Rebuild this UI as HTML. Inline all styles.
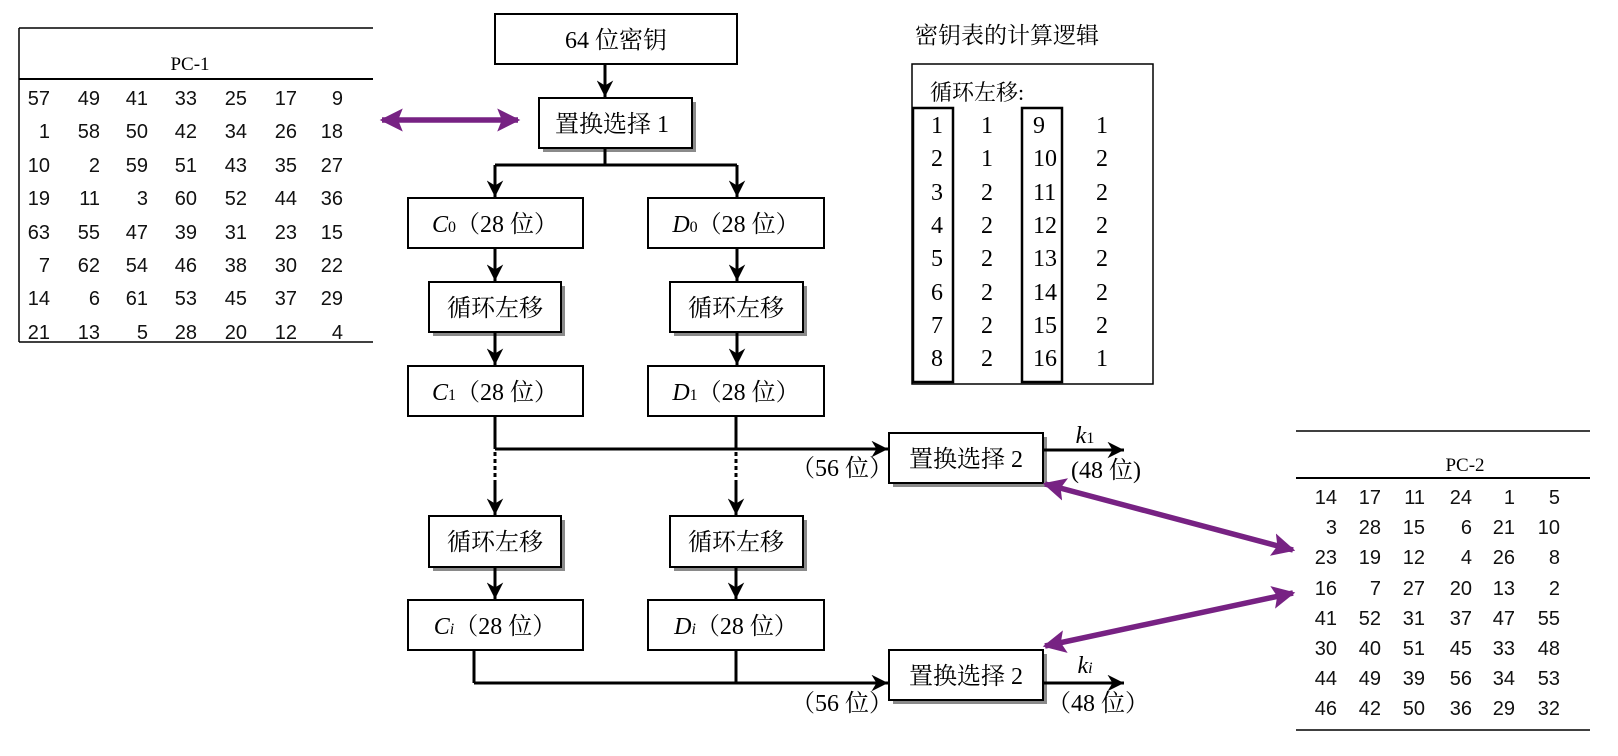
<!DOCTYPE html>
<html><head><meta charset="utf-8"><style>
html,body{margin:0;padding:0;background:#fff;}
svg{display:block;}
.s{font-family:"Liberation Serif","Noto Serif CJK SC",serif;fill:#000;}
.n{font-family:"Liberation Sans","DejaVu Sans",sans-serif;font-size:20px;fill:#111;}
</style></head><body>
<svg width="1618" height="756" viewBox="0 0 1618 756" xmlns="http://www.w3.org/2000/svg">
<defs>
<marker id="ah" viewBox="0 0 10 10" refX="10" refY="5" markerWidth="5.5" markerHeight="5.5" orient="auto" markerUnits="strokeWidth"><path d="M0,0 L10,5 L0,10 L3,5 z" fill="#000"/></marker>
<marker id="ph" viewBox="0 0 10 10" refX="9" refY="5" markerWidth="4.2" markerHeight="4.2" orient="auto-start-reverse" markerUnits="strokeWidth"><path d="M0,0 L10,5 L0,10 L2,5 z" fill="#772283"/></marker>
</defs>

<!-- PC-1 table -->
<g stroke="#000" stroke-width="1.5">
<line x1="19" y1="28" x2="373" y2="28"/>
<line x1="19" y1="79" x2="373" y2="79" stroke-width="2"/>
<line x1="19" y1="342" x2="373" y2="342"/>
<line x1="19" y1="28" x2="19" y2="342"/>
</g>
<text x="190" y="70" text-anchor="middle" style="font-family:'Liberation Serif',serif;font-size:19px">PC-1</text>
<g class="n" text-anchor="end">
<text y="105"><tspan x="50">57</tspan><tspan x="100">49</tspan><tspan x="148">41</tspan><tspan x="197">33</tspan><tspan x="247">25</tspan><tspan x="297">17</tspan><tspan x="343">9</tspan></text>
<text y="138"><tspan x="50">1</tspan><tspan x="100">58</tspan><tspan x="148">50</tspan><tspan x="197">42</tspan><tspan x="247">34</tspan><tspan x="297">26</tspan><tspan x="343">18</tspan></text>
<text y="172"><tspan x="50">10</tspan><tspan x="100">2</tspan><tspan x="148">59</tspan><tspan x="197">51</tspan><tspan x="247">43</tspan><tspan x="297">35</tspan><tspan x="343">27</tspan></text>
<text y="205"><tspan x="50">19</tspan><tspan x="100">11</tspan><tspan x="148">3</tspan><tspan x="197">60</tspan><tspan x="247">52</tspan><tspan x="297">44</tspan><tspan x="343">36</tspan></text>
<text y="239"><tspan x="50">63</tspan><tspan x="100">55</tspan><tspan x="148">47</tspan><tspan x="197">39</tspan><tspan x="247">31</tspan><tspan x="297">23</tspan><tspan x="343">15</tspan></text>
<text y="272"><tspan x="50">7</tspan><tspan x="100">62</tspan><tspan x="148">54</tspan><tspan x="197">46</tspan><tspan x="247">38</tspan><tspan x="297">30</tspan><tspan x="343">22</tspan></text>
<text y="305"><tspan x="50">14</tspan><tspan x="100">6</tspan><tspan x="148">61</tspan><tspan x="197">53</tspan><tspan x="247">45</tspan><tspan x="297">37</tspan><tspan x="343">29</tspan></text>
<text y="339"><tspan x="50">21</tspan><tspan x="100">13</tspan><tspan x="148">5</tspan><tspan x="197">28</tspan><tspan x="247">20</tspan><tspan x="297">12</tspan><tspan x="343">4</tspan></text>
</g>

<!-- PC-2 table -->
<g stroke="#000" stroke-width="1.5">
<line x1="1296" y1="431" x2="1590" y2="431"/>
<line x1="1296" y1="478" x2="1590" y2="478" stroke-width="2"/>
<line x1="1296" y1="730" x2="1590" y2="730"/>
</g>
<text x="1465" y="471" text-anchor="middle" style="font-family:'Liberation Serif',serif;font-size:19px">PC-2</text>
<g class="n" text-anchor="end">
<text y="504"><tspan x="1337">14</tspan><tspan x="1381">17</tspan><tspan x="1425">11</tspan><tspan x="1472">24</tspan><tspan x="1515">1</tspan><tspan x="1560">5</tspan></text>
<text y="534"><tspan x="1337">3</tspan><tspan x="1381">28</tspan><tspan x="1425">15</tspan><tspan x="1472">6</tspan><tspan x="1515">21</tspan><tspan x="1560">10</tspan></text>
<text y="564"><tspan x="1337">23</tspan><tspan x="1381">19</tspan><tspan x="1425">12</tspan><tspan x="1472">4</tspan><tspan x="1515">26</tspan><tspan x="1560">8</tspan></text>
<text y="595"><tspan x="1337">16</tspan><tspan x="1381">7</tspan><tspan x="1425">27</tspan><tspan x="1472">20</tspan><tspan x="1515">13</tspan><tspan x="1560">2</tspan></text>
<text y="625"><tspan x="1337">41</tspan><tspan x="1381">52</tspan><tspan x="1425">31</tspan><tspan x="1472">37</tspan><tspan x="1515">47</tspan><tspan x="1560">55</tspan></text>
<text y="655"><tspan x="1337">30</tspan><tspan x="1381">40</tspan><tspan x="1425">51</tspan><tspan x="1472">45</tspan><tspan x="1515">33</tspan><tspan x="1560">48</tspan></text>
<text y="685"><tspan x="1337">44</tspan><tspan x="1381">49</tspan><tspan x="1425">39</tspan><tspan x="1472">56</tspan><tspan x="1515">34</tspan><tspan x="1560">53</tspan></text>
<text y="715"><tspan x="1337">46</tspan><tspan x="1381">42</tspan><tspan x="1425">50</tspan><tspan x="1472">36</tspan><tspan x="1515">29</tspan><tspan x="1560">32</tspan></text>
</g>

<!-- key schedule table -->
<text class="s" x="915" y="43" style="font-size:23px">密钥表的计算逻辑</text>
<rect x="912" y="64" width="241" height="320" fill="none" stroke="#000" stroke-width="1.5"/>
<text class="s" x="930" y="100" style="font-size:22px">循环左移:</text>
<rect x="913" y="108" width="40" height="274" fill="none" stroke="#000" stroke-width="2.5"/>
<rect x="1022" y="108" width="40" height="274" fill="none" stroke="#000" stroke-width="2.5"/>
<g class="s" style="font-size:24px">
<g text-anchor="middle">
<text x="937" y="133">1</text><text x="937" y="166">2</text><text x="937" y="200">3</text><text x="937" y="233">4</text><text x="937" y="266">5</text><text x="937" y="300">6</text><text x="937" y="333">7</text><text x="937" y="366">8</text>
<text x="987" y="133">1</text><text x="987" y="166">1</text><text x="987" y="200">2</text><text x="987" y="233">2</text><text x="987" y="266">2</text><text x="987" y="300">2</text><text x="987" y="333">2</text><text x="987" y="366">2</text>
<text x="1102" y="133">1</text><text x="1102" y="166">2</text><text x="1102" y="200">2</text><text x="1102" y="233">2</text><text x="1102" y="266">2</text><text x="1102" y="300">2</text><text x="1102" y="333">2</text><text x="1102" y="366">1</text>
</g>
<text x="1033" y="133">9</text><text x="1033" y="166">10</text><text x="1033" y="200">11</text><text x="1033" y="233">12</text><text x="1033" y="266">13</text><text x="1033" y="300">14</text><text x="1033" y="333">15</text><text x="1033" y="366">16</text>
</g>

<!-- shadows -->
<g fill="#8a8a8a">
<rect x="543" y="102" width="153" height="50"/>
<rect x="433" y="286" width="132" height="50"/>
<rect x="674" y="286" width="133" height="50"/>
<rect x="433" y="520" width="132" height="51"/>
<rect x="674" y="520" width="133" height="51"/>
<rect x="893" y="437" width="154" height="50"/>
<rect x="893" y="654" width="154" height="50"/>
</g>
<!-- boxes -->
<g fill="#fff" stroke="#000" stroke-width="2">
<rect x="495" y="14" width="242" height="50"/>
<rect x="539" y="98" width="153" height="50"/>
<rect x="408" y="198" width="175" height="50"/>
<rect x="648" y="198" width="176" height="50"/>
<rect x="429" y="282" width="132" height="50"/>
<rect x="670" y="282" width="133" height="50"/>
<rect x="408" y="366" width="175" height="50"/>
<rect x="648" y="366" width="176" height="50"/>
<rect x="429" y="516" width="132" height="51"/>
<rect x="670" y="516" width="133" height="51"/>
<rect x="408" y="600" width="175" height="50"/>
<rect x="648" y="600" width="176" height="50"/>
<rect x="889" y="433" width="154" height="50"/>
<rect x="889" y="650" width="154" height="50"/>
</g>

<!-- connectors -->
<g stroke="#000" stroke-width="3" fill="none">
<line x1="605" y1="64" x2="605" y2="97" marker-end="url(#ah)"/>
<polyline points="605,148 605,165"/>
<polyline points="495,165 737,165"/>
<line x1="495" y1="165" x2="495" y2="197" marker-end="url(#ah)"/>
<line x1="737" y1="165" x2="737" y2="197" marker-end="url(#ah)"/>
<line x1="495" y1="248" x2="495" y2="281" marker-end="url(#ah)"/>
<line x1="737" y1="248" x2="737" y2="281" marker-end="url(#ah)"/>
<line x1="495" y1="332" x2="495" y2="365" marker-end="url(#ah)"/>
<line x1="737" y1="332" x2="737" y2="365" marker-end="url(#ah)"/>
<polyline points="495,416 495,449"/>
<polyline points="736,416 736,449"/>
<line x1="495" y1="449" x2="888" y2="449" marker-end="url(#ah)"/>
<line x1="495" y1="452" x2="495" y2="482" stroke-dasharray="4,3"/>
<line x1="736" y1="452" x2="736" y2="482" stroke-dasharray="4,3"/>
<line x1="495" y1="482" x2="495" y2="515" marker-end="url(#ah)"/>
<line x1="736" y1="482" x2="736" y2="515" marker-end="url(#ah)"/>
<line x1="495" y1="567" x2="495" y2="599" marker-end="url(#ah)"/>
<line x1="736" y1="567" x2="736" y2="599" marker-end="url(#ah)"/>
<polyline points="474,650 474,683"/>
<polyline points="736,650 736,683"/>
<line x1="474" y1="683" x2="888" y2="683" marker-end="url(#ah)"/>
<line x1="1043" y1="450" x2="1124" y2="450" marker-end="url(#ah)"/>
<line x1="1043" y1="683" x2="1124" y2="683" marker-end="url(#ah)"/>
</g>

<!-- purple arrows -->
<g stroke="#772283" stroke-width="5.5" fill="none">
<line x1="382" y1="120" x2="518" y2="120" marker-start="url(#ph)" marker-end="url(#ph)"/>
<line x1="1045" y1="484" x2="1293" y2="550" marker-start="url(#ph)" marker-end="url(#ph)"/>
<line x1="1045" y1="646" x2="1293" y2="593" marker-start="url(#ph)" marker-end="url(#ph)"/>
</g>

<!-- labels -->
<g class="s" style="font-size:24px" text-anchor="middle">
<text x="616" y="48">64 位密钥</text>
<text x="612" y="132">置换选择 1</text>
<text x="495" y="232"><tspan font-style="italic">C</tspan><tspan font-size="16">0</tspan>（28 位）</text>
<text x="736" y="232"><tspan font-style="italic">D</tspan><tspan font-size="16">0</tspan>（28 位）</text>
<text x="495" y="316">循环左移</text>
<text x="736" y="316">循环左移</text>
<text x="495" y="400"><tspan font-style="italic">C</tspan><tspan font-size="16">1</tspan>（28 位）</text>
<text x="736" y="400"><tspan font-style="italic">D</tspan><tspan font-size="16">1</tspan>（28 位）</text>
<text x="495" y="550">循环左移</text>
<text x="736" y="550">循环左移</text>
<text x="495" y="634"><tspan font-style="italic">C</tspan><tspan font-size="16" font-style="italic">i</tspan>（28 位）</text>
<text x="736" y="634"><tspan font-style="italic">D</tspan><tspan font-size="16" font-style="italic">i</tspan>（28 位）</text>
<text x="966" y="467">置换选择 2</text>
<text x="966" y="684">置换选择 2</text>
<text x="842" y="476">（56 位）</text>
<text x="842" y="711">（56 位）</text>
<text x="1106" y="478">(48 位)</text>
<text x="1098" y="711">（48 位）</text>
<text x="1085" y="443"><tspan font-style="italic">k</tspan><tspan font-size="16">1</tspan></text>
<text x="1085" y="673"><tspan font-style="italic">k</tspan><tspan font-size="16" font-style="italic">i</tspan></text>
</g>
</svg>
</body></html>
